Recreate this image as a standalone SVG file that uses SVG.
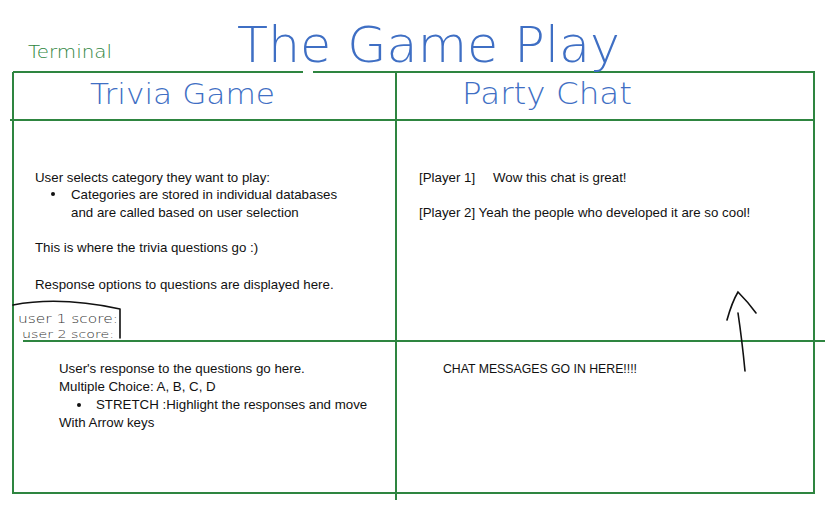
<svg xmlns="http://www.w3.org/2000/svg" width="831" height="517" viewBox="0 0 831 517">
<style>
.g{stroke:#2e8540;stroke-width:2;fill:none}
.hw{font-family:"DejaVu Sans",sans-serif;font-weight:200;fill:#3f6fc4}
.t{font-family:"Liberation Sans",Arial,sans-serif;font-size:13.3px;fill:#111}
.ink{stroke:#111;stroke-width:1.6;fill:none;stroke-linecap:round}
</style>
<rect width="831" height="517" fill="#fff"/>
<g id="connectors">
<path class="g" d="M13 72H303M313 72H814V493H13V72"/>
<path class="g" d="M10 120H814"/>
<path class="g" d="M396 72V500"/>
<path class="g" d="M23 341H825"/>
</g>
<g id="title">
<text class="hw" x="237" y="62" font-size="50" textLength="383" lengthAdjust="spacingAndGlyphs">The Game Play</text>
<text x="28" y="58" font-family="DejaVu Sans,sans-serif" font-weight="200" font-size="18" fill="#2e8540" textLength="84" lengthAdjust="spacingAndGlyphs">Terminal</text>
</g>
<g id="trivia-header">
<text class="hw" x="90" y="104" font-size="28" textLength="185" lengthAdjust="spacingAndGlyphs">Trivia Game</text>
</g>
<g id="chat-header">
<text class="hw" x="462" y="104" font-size="30" textLength="170" lengthAdjust="spacingAndGlyphs">Party Chat</text>
</g>
<g id="trivia-questions">
<text class="t" x="35" y="182">User selects category they want to play:</text>
<circle cx="53" cy="194" r="2" fill="#111"/>
<text class="t" x="71" y="199">Categories are stored in individual databases</text>
<text class="t" x="71" y="217">and are called based on user selection</text>
<text class="t" x="35" y="252">This is where the trivia questions go :)</text>
<text class="t" x="35" y="289">Response options to questions are displayed here.</text>
</g>
<g id="score-box">
<path class="ink" stroke-width="1" d="M13 305Q60 296 120 309M120 309V338"/>
<text x="18" y="323" font-family="DejaVu Sans,sans-serif" font-weight="200" font-size="12" fill="#333" textLength="100" lengthAdjust="spacingAndGlyphs">user 1 score:</text>
<text x="22" y="338" font-family="DejaVu Sans,sans-serif" font-weight="200" font-size="11" fill="#333" textLength="92" lengthAdjust="spacingAndGlyphs">user 2 score:</text>
</g>
<g id="chat-log">
<text class="t" x="419" y="182">[Player 1]</text>
<text class="t" x="493" y="182">Wow this chat is great!</text>
<text class="t" x="419" y="217">[Player 2] Yeah the people who developed it are so cool!</text>
</g>
<g id="responses">
<text class="t" x="59" y="373">User's response to the questions go here.</text>
<text class="t" x="59" y="391">Multiple Choice: A, B, C, D</text>
<circle cx="79" cy="405" r="2" fill="#111"/>
<text class="t" x="96" y="409">STRETCH :Highlight the responses and move</text>
<text class="t" x="59" y="427">With Arrow keys</text>
</g>
<g id="chat-input">
<text class="t" x="443" y="373" textLength="194" lengthAdjust="spacingAndGlyphs">CHAT MESSAGES GO IN HERE!!!!</text>
</g>
<g id="arrow">
<path class="ink" d="M738 313Q742 340 745 371"/>
<path class="ink" d="M727 320Q732 302 738 292Q748 302 756 313"/>
</g>
</svg>
